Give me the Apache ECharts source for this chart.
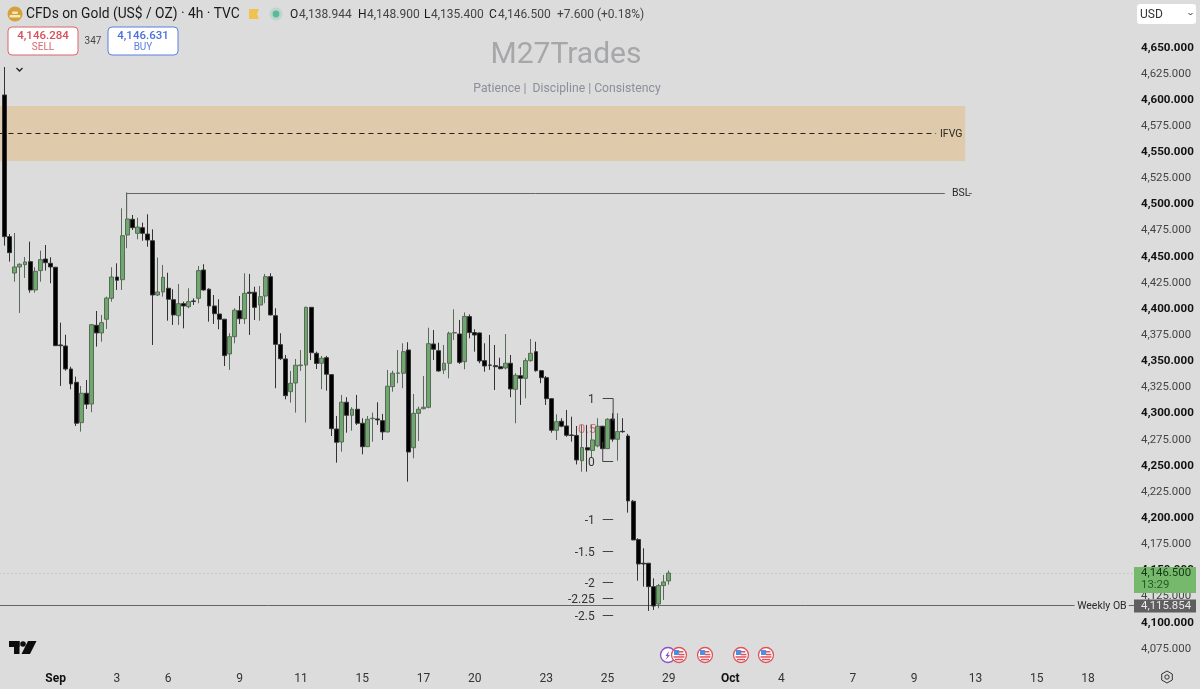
<!DOCTYPE html>
<html><head><meta charset="utf-8">
<style>html,body{margin:0;padding:0;background:#dcdcdc}#c{width:1200px;height:689px}</style>
<script src="https://cdn.jsdelivr.net/npm/echarts@6/dist/echarts.min.js"></script>
</head><body><div id="c"></div>
<script>
const opens=[4603.8,4468.3,4433.5,4439.3,4441.5,4444.4,4417.3,4435.8,4446.9,4442.8,4439,4364.7,4363.7,4341.7,4329,4290.4,4318.5,4308.2,4383.5,4376.2,4389.3,4409.3,4429.7,4427.1,4469.9,4484.9,4471.5,4476.9,4470.8,4464.4,4412.5,4415.4,4418.9,4408,4392.7,4404.2,4401.3,4406.8,4409.3,4436.4,4418,4402,4394.3,4389.3,4356.1,4372.6,4397.5,4389.8,4415.1,4415.1,4402.9,4411.5,4430,4392.7,4365,4351.3,4320,4328.3,4344.9,4345.5,4400.7,4356.7,4347.2,4352.5,4336.3,4284.3,4271.9,4309.9,4297.4,4303.2,4289.8,4267.4,4294.2,4293.9,4292.3,4281.5,4324.8,4337.6,4337.6,4359.9,4266.4,4299.3,4303.7,4305.1,4365.6,4359.2,4340.8,4347.2,4376.2,4375.2,4348.7,4391.8,4376.5,4376.2,4349.7,4345.5,4344.9,4343.9,4342.7,4347.2,4322.3,4335.3,4332.8,4349.7,4358.3,4340.1,4333.4,4313.3,4283.1,4291.7,4287.2,4278.6,4278.1,4254,4266.4,4263.8,4268.1,4287,4265.5,4293.9,4274.5,4282.1,4277.6,4215.2,4178.5,4155.9,4155.9,4133.5,4116.9,4134.5,4138.944];
const closes=[4468.3,4453,4439.3,4441.9,4444.1,4417.3,4435.2,4446.3,4443.4,4439.3,4364,4364,4341.7,4327.4,4289.8,4318.5,4308,4384.1,4376.2,4386,4409.6,4429.7,4426.6,4469.2,4485.2,4476.9,4477.5,4471.5,4465.1,4412.5,4415.4,4429.4,4408.4,4393.4,4404.2,4402,4406.1,4406.3,4435.8,4417.3,4402,4394.6,4389.3,4354.5,4372.6,4397.9,4389.8,4414.1,4414.1,4400.7,4410.9,4430,4393.4,4365.3,4351.6,4316.2,4328,4345.3,4345.5,4400.7,4357.3,4347,4352,4336.7,4284.6,4271.6,4309.9,4297.4,4303.2,4289.8,4267.4,4293.6,4294.6,4293,4281.5,4325.2,4337.6,4337.9,4358.3,4262.3,4299.3,4303.2,4305.1,4365.9,4360.6,4339.8,4347.2,4375.9,4376.5,4348.1,4392,4376.5,4374.2,4349.4,4344.6,4345.3,4343.9,4342,4347.2,4322.6,4335.7,4332.8,4349.7,4356.7,4340.1,4333.4,4313.3,4283.1,4291.3,4287,4278.3,4278.1,4254.7,4266.6,4264.2,4273.8,4287,4265.5,4293.6,4274.6,4281.8,4281.7,4215.5,4178.2,4155.2,4155.2,4133.5,4115,4134.5,4138,4146.5];
const lows=[4459.7,4444.4,4425.2,4395.3,4428.8,4414.7,4414.7,4425.2,4435.8,4423.7,4364,4325.5,4340.1,4322.3,4287.2,4281.8,4303.5,4300.3,4363.1,4367.8,4380,4406.1,4417.3,4417.3,4457.2,4474.7,4465.8,4464.4,4458.7,4364.7,4411.5,4410.9,4387.9,4383.8,4383.8,4380.6,4399.8,4403,4404.6,4416.6,4387,4384.8,4379.7,4344.6,4340.8,4366.3,4384.8,4384.8,4374.3,4388.6,4387.9,4404.6,4392.9,4323.3,4350.3,4312.7,4309.5,4300,4339.8,4290.4,4350.3,4341.7,4322.3,4321,4277.6,4252.1,4262.6,4280.8,4282.7,4288.2,4260.1,4267.1,4272.2,4288.2,4273.8,4281,4320,4328.1,4323.3,4233.9,4256.3,4272.9,4303.2,4304.1,4350.3,4339.1,4337,4332.8,4369.5,4346.5,4341.4,4371.1,4358.3,4347.2,4339.1,4340.8,4321.6,4341.4,4341.4,4314.7,4289.8,4307.3,4313.7,4348.7,4339.1,4328.1,4307.3,4280.8,4273.8,4286,4276.9,4272.2,4250.4,4243.5,4243.5,4256.6,4266.8,4265.2,4265.2,4272.2,4254,4280.8,4204.3,4177.9,4139.2,4133.5,4110.3,4111.2,4112.8,4120.8,4135.4];
const highs=[4630.6,4470.8,4471.8,4442.8,4448.8,4463.5,4439,4454.9,4460.3,4448.6,4439.3,4386,4374.5,4343.9,4334.4,4325.5,4331.2,4384.8,4397.2,4393.4,4410.9,4439,4442.8,4495.4,4510.4,4489,4486.4,4481.7,4489.7,4475.3,4448.4,4441.2,4433.8,4418,4423,4406.1,4418.9,4409.3,4440.2,4441.9,4418.9,4412.5,4408.4,4389.6,4375.9,4399.8,4411.5,4433.3,4432.6,4420.4,4421.1,4432.6,4433.3,4399.8,4375.9,4355.1,4339.8,4351.3,4359.9,4401.3,4401,4358.3,4354.2,4354.2,4336.9,4296.8,4316.9,4314.7,4305.1,4316.9,4294.6,4296.8,4300,4309.9,4298.7,4340.8,4340.1,4359.9,4366.3,4367.3,4317.8,4305.7,4335,4381.2,4379,4366.9,4364.7,4377.4,4398.8,4388.6,4395.8,4393.9,4379.7,4376.5,4366.3,4374.3,4364.7,4352.5,4375.2,4355.1,4337.6,4343.4,4352,4370.4,4367.8,4340.8,4335,4313.7,4298.4,4294.6,4302.5,4296.1,4287.2,4288.2,4288.2,4288.2,4294.6,4287.2,4294.6,4299.4,4299.4,4294.6,4279.6,4216.4,4179.8,4170.2,4156.2,4141.5,4136.1,4144.7,4148.9];
const dateLabels={10:'Sep',22:'3',32:'6',46:'9',58:'11',70:'15',82:'17',92:'20',106:'23',118:'25',130:'29',142:'Oct',152:'4',166:'7',178:'9',190:'13',202:'15',212:'18'};
const slotCount=222;
const priceTicks={min:4075,max:4650,step:25};
const zone=[-1,188,4593.3,4540.7];
const levelLines=[
 [-1,182.3,4567.5,'dash'],
 [23.9,184,4510.4,'solid'],[188.7,189.3,4510.4,'solid'],
 [-1,209.4,4115.854,'solid'],[220,221.1,4115.854,'solid'],
 [-1,221.1,4146.5,'dot']
];
const levelTexts=[[183.06,4567.5,'IFVG'],[185.4,4510.4,'BSL'],[209.9,4115.854,'Weekly OB']];
const bslDrop=[23.9,4510.4,4470];
const fibLevels=[4313.5,4254,4198,4167.5,4137.5,4122.5,4106.5];
const fibNames=['1','0','-1','-1.5','-2','-2.25','-2.5'];
const fibRed='0.5';

const categories=Array.from({length:slotCount},(_,i)=>dateLabels[i]||'');
const candles=opens.map((o,i)=>[o,closes[i],lows[i],highs[i]]);
const fmt=v=>v.toLocaleString('en-US',{minimumFractionDigits:3,maximumFractionDigits:3});
const F='Roboto, "Noto Sans", sans-serif';
const X0=117.06, X1=119.1;
const chart=echarts.init(document.getElementById('c'),null,{renderer:'canvas'});

function gtext(x,y,text,fill,size,align,weight){return {type:'text',zlevel:1,x,y:y+1,z:100,style:{text,fill,font:(weight?weight+' ':'')+size+'px '+F,textAlign:align||'left',textVerticalAlign:'middle'}};}
function rect(x,y,w,h,fill,r,stroke){return {type:'rect',zlevel:1,z:100,shape:{x,y,width:w,height:h,r:r||0},style:{fill,stroke:stroke||null,lineWidth:stroke?1:0}};}
function circle(cx,cy,r,fill,stroke,lw){return {type:'circle',zlevel:1,z:100,shape:{cx,cy,r},style:{fill,stroke:stroke||null,lineWidth:lw||1}};}
function flag(x,y){return [circle(x,y,7.5,'#ffffff','#e0525c',1.3),
 rect(x-5,y-5,5.2,5,'#4f8fe0'),rect(x,y-4,4.4,1.5,'#e0525c'),rect(x,y-1.2,5.5,1.5,'#e0525c'),
 rect(x-5.5,y+1.2,11,1.5,'#e0525c'),rect(x-4,y+3.8,8,1.5,'#e0525c')];}

const graphicEls=[
 circle(15,14,7.5,'#d3a23a'),rect(9.5,15,11,2.4,'#f6e6b8',1),rect(12,11.6,6,2.4,'#f6e6b8',1),
 gtext(26,14,'CFDs on Gold (US$ / OZ) · 4h · TVC','#1a1a1a',13.8),
 {type:'polygon',zlevel:1,z:100,shape:{points:[[249,9],[259,9],[257,14],[259,19],[249,19]]},style:{fill:'#f2c24e'}},
 circle(276,14,6.5,'#bcd6cc'),circle(276,14,3.4,'#5bb89a'),
 gtext(290,14,'O','#1a1a1a',12),gtext(299,14,'4,138.944','#444',12),
 gtext(358,14,'H','#1a1a1a',12),gtext(367,14,'4,148.900','#444',12),
 gtext(424,14,'L','#1a1a1a',12),gtext(431,14,'4,135.400','#444',12),
 gtext(489,14,'C','#1a1a1a',12),gtext(498,14,'4,146.500','#444',12),
 gtext(557,14,'+7.600 (+0.18%)','#444',12),
 rect(8,27,70,28,'#ffffff',4,'#d9666e'),gtext(43,35,'4,146.284','#d5505a',11.5,'center',500),gtext(43,46,'SELL','#d9666e',10,'center'),
 gtext(93,40.5,'347','#444',10,'center'),
 rect(108,27,70,28,'#ffffff',4,'#5a7fe0'),gtext(143,35,'4,146.631','#4a70dc',11.5,'center',500),gtext(143,46,'BUY','#5a7fe0',10,'center'),
 {type:'polyline',zlevel:1,z:100,shape:{points:[[16.5,68],[19.5,71],[22.5,68]]},style:{fill:null,stroke:'#222',lineWidth:1.3}},
 gtext(566,54.5,'M27Trades','#a6a7a9',30,'center'),
 gtext(567,87.5,'Patience |  Discipline | Consistency','#8b8f9b',12.2,'center'),
 rect(1137,4,59,20,'#ffffff',3),gtext(1140,13.5,'USD','#333',12),
 {type:'polyline',zlevel:1,z:100,shape:{points:[[1188.5,13],[1190.5,15],[1192.5,13]]},style:{fill:null,stroke:'#333',lineWidth:1}},
 rect(1134,567,62,26,'#76b96c'),gtext(1141,572.5,'4,146.500','#123a12',11.4),gtext(1141,584,'13:29','#235a25',11.4),
 rect(1134,599.5,62,13,'#5f5f5f'),gtext(1141,604.8,'4,115.854','#e8e8e8',11.4),
 rect(9,641,10.5,6,'#0d0d0d'),rect(14,641,5.5,13,'#0d0d0d'),circle(23,644,2.8,'#0d0d0d'),
 {type:'polygon',zlevel:1,z:100,shape:{points:[[28,641],[36.5,641],[30,654],[21.5,654]]},style:{fill:'#0d0d0d'}},
 circle(668,655,7.5,'#ffffff','#8a4fc7',1.3),
 {type:'polygon',zlevel:1,z:100,shape:{points:[[669,651],[665.5,656],[667.5,656],[665.5,660],[670,655],[668,655]]},style:{fill:'#8a4fc7'}},
 ...flag(679,655),...flag(705,655),...flag(741,655),...flag(766,655),
 {type:'polygon',zlevel:1,z:100,shape:{points:[[1167,671],[1172.3,674],[1172.3,680],[1167,683],[1161.7,680],[1161.7,674]]},style:{fill:null,stroke:'#333',lineWidth:1}},
 circle(1167,677,2.2,null,'#333',1)
];

const option={
 animation:false,backgroundColor:'#dcdcdc',
 grid:{left:2,top:46.7,width:5.11*slotCount,height:601.1,containLabel:false,outerBoundsMode:'none'},
 xAxis:[
  {type:'category',data:categories,boundaryGap:true,axisLine:{show:false},axisTick:{show:false},splitLine:{show:false},
   axisLabel:{interval:0,margin:25,hideOverlap:false,showMinLabel:true,showMaxLabel:true,
    formatter:v=>v==='Sep'||v==='Oct'?'{b|'+v+'}':(v?'{n|'+v+'}':''),
    rich:{b:{fontFamily:F,fontSize:12,fontWeight:700,color:'#111'},n:{fontFamily:F,fontSize:12,color:'#333'}}}},
  {type:'value',show:false,min:-0.5,max:slotCount-0.5,scale:true,splitLine:{show:false}}
 ],
 yAxis:{type:'value',position:'right',min:priceTicks.min,max:priceTicks.max,interval:priceTicks.step,
  axisLine:{show:false},axisTick:{show:false},splitLine:{show:false},
  axisLabel:{margin:4.6,showMinLabel:true,showMaxLabel:true,padding:[2,0,0,0],
   formatter:v=>(v%50===0?'{b|':'{n|')+fmt(v)+'}',
   rich:{b:{fontFamily:F,fontSize:11.6,fontWeight:700,color:'#111'},n:{fontFamily:F,fontSize:11.4,color:'#444'}}}},
 graphic:{elements:graphicEls},
 series:[
  {type:'custom',xAxisIndex:1,yAxisIndex:0,z:1,clip:false,silent:true,data:[zone],encode:{x:[0,1],y:[2,3]},
   renderItem:(p,api)=>{const a=api.coord([api.value(0),api.value(2)]),b=api.coord([api.value(1),api.value(3)]);
    return {type:'rect',shape:{x:a[0],y:a[1],width:b[0]-a[0],height:b[1]-a[1]},style:{fill:'#dfcaab'}};}},
  {type:'custom',xAxisIndex:1,yAxisIndex:0,z:2,clip:false,silent:true,data:levelLines.map(l=>[l[0],l[1],l[2]]),encode:{x:[0,1],y:2},
   renderItem:(p,api)=>{const k=levelLines[p.dataIndex][3];
    const a=api.coord([api.value(0),api.value(2)]),b=api.coord([api.value(1),api.value(2)]);
    const y=Math.round(a[1])+0.5;
    const st=k==='dash'?{stroke:'#222',lineWidth:1,lineDash:[5,4]}:k==='dot'?{stroke:'#9cc79a',lineWidth:1,lineDash:[1,3]}:{stroke:'#666',lineWidth:1};
    return {type:'line',shape:{x1:a[0],y1:y,x2:b[0],y2:y},style:st};}},
  {type:'custom',xAxisIndex:1,yAxisIndex:0,z:2,clip:false,silent:true,data:[bslDrop],encode:{x:0,y:[1,2]},
   renderItem:(p,api)=>{const a=api.coord([api.value(0),api.value(1)]),b=api.coord([api.value(0),api.value(2)]);
    return {type:'line',shape:{x1:a[0],y1:a[1],x2:b[0],y2:b[1]},style:{stroke:'#666',lineWidth:1}};}},
  {type:'custom',xAxisIndex:1,yAxisIndex:0,z:3,clip:false,silent:true,data:levelTexts.map(t=>[t[0],t[1]]),encode:{x:0,y:1},
   renderItem:(p,api)=>{const c=api.coord([api.value(0),api.value(1)]);
    return {type:'text',x:c[0],y:c[1]+1,style:{text:levelTexts[p.dataIndex][2],fill:'#2a2a2a',font:'10.5px '+F,textAlign:'left',textVerticalAlign:'middle'}};}},
  {type:'custom',xAxisIndex:1,yAxisIndex:0,z:4,clip:false,silent:true,data:[[114,4283.5]],encode:{x:0,y:1},
   renderItem:(p,api)=>{const c=api.coord([api.value(0),api.value(1)]);
    return {type:'text',x:c[0],y:c[1],style:{text:fibRed,fill:'#e0707a',font:'13px '+F,textAlign:'center',textVerticalAlign:'middle'}};}},
  {type:'candlestick',xAxisIndex:0,yAxisIndex:0,z:5,data:candles,barWidth:4.4,clip:false,
   itemStyle:{color:'#6fa86d',color0:'#000000',borderColor:'#5a6a5a',borderColor0:'#333333',borderWidth:1}},
  {type:'custom',xAxisIndex:1,yAxisIndex:0,z:6,clip:false,silent:true,data:fibLevels.map(p=>[X0,p]),encode:{x:0,y:1},
   renderItem:(p,api)=>{const a=api.coord([X0,api.value(1)]),b=api.coord([X1,api.value(1)]);const y=Math.round(a[1])+0.5;
    const kids=[{type:'line',shape:{x1:a[0],y1:y,x2:b[0],y2:y},style:{stroke:'#444',lineWidth:1}},
     {type:'text',x:a[0]-8,y:y+1,style:{text:fibNames[p.dataIndex],fill:'#333',font:'12px '+F,textAlign:'right',textVerticalAlign:'middle'}}];
    if(p.dataIndex===0){const c=api.coord([X1,4292]);kids.push({type:'line',shape:{x1:b[0],y1:y,x2:b[0],y2:c[1]},style:{stroke:'#444',lineWidth:1}});}
    if(p.dataIndex===1){const c=api.coord([X0,4272]);kids.push({type:'line',shape:{x1:a[0],y1:y,x2:a[0],y2:c[1]},style:{stroke:'#444',lineWidth:1}});}
    return {type:'group',children:kids};}}
 ]
};
chart.setOption(option);
</script></body></html>
